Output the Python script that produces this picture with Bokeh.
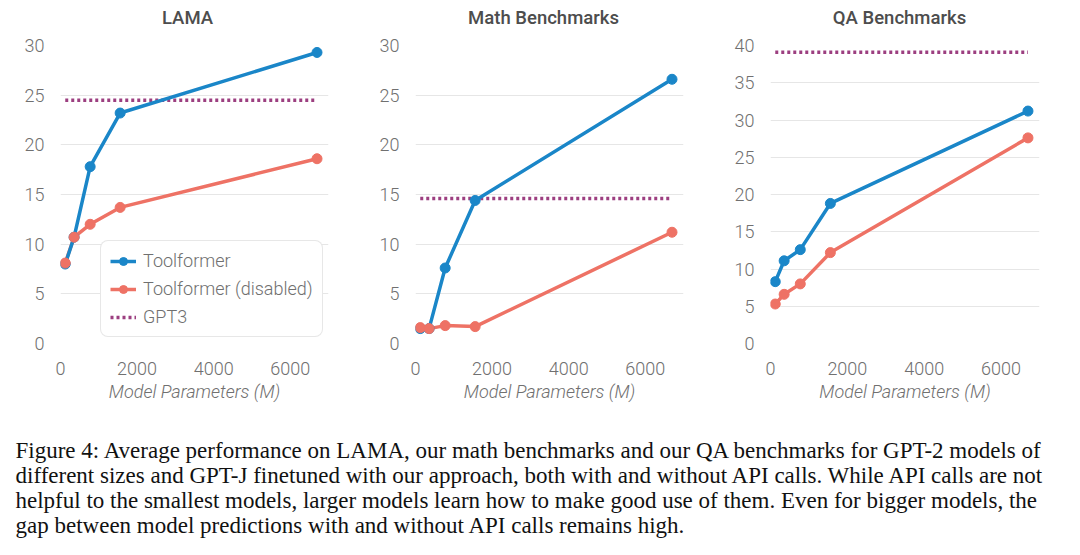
from bokeh.plotting import figure
from bokeh.layouts import column, row
from bokeh.models import Range1d, FixedTicker, Legend, LegendItem, ColumnDataSource
from bokeh.embed import file_html
from bokeh.resources import INLINE
from bokeh.core.properties import value

# ---- data ----
params = [124, 355, 775, 1558, 6700]
titles = ["LAMA", "Math Benchmarks", "QA Benchmarks"]
toolformer = [
    [8.0, 10.7, 17.8, 23.2, 29.3],
    [1.5, 1.5, 7.6, 14.4, 26.6],
    [8.3, 11.1, 12.6, 18.8, 31.2],
]
disabled = [
    [8.1, 10.7, 12.0, 13.7, 18.6],
    [1.6, 1.5, 1.8, 1.7, 11.2],
    [5.3, 6.6, 8.0, 12.2, 27.6],
]
gpt3 = [24.5, 14.6, 39.1]
y_max = [30, 30, 40]
y_ticks = [[0, 5, 10, 15, 20, 25, 30], [0, 5, 10, 15, 20, 25, 30], [0, 5, 10, 15, 20, 25, 30, 35, 40]]
x_ticks = [0, 2000, 4000, 6000]
series_names = ["Toolformer", "Toolformer (disabled)", "GPT3"]
caption_lines = [
    "Figure 4:  Average performance on LAMA, our math benchmarks and our QA benchmarks for GPT-2 models of",
    "different sizes and GPT-J finetuned with our approach, both with and without API calls.  While API calls are not",
    "helpful to the smallest models, larger models learn how to make good use of them.  Even for bigger models, the",
    "gap between model predictions with and without API calls remains high.",
]

BLUE = "#1a86c8"
RED = "#ee7265"
PURPLE = "#9c3f80"
GRAY = "#707070"
FONT = "Roboto Light"
TFONT = "Roboto Medium"

PAGE_W = 1072
widths = [362, 355, 355]
borders_left = [60, 53, 53]
borders_right = [34, 34, 33]
TITLE_H = 30
FIG_H = 383          # chart row height (below title strip)
FRAME_TOP = 15
FRAME_H = 298
X_MAX = 7000
title_centers = [187, 543, 899]


def blank(fig):
    fig.outline_line_color = None
    fig.xaxis.visible = False
    fig.yaxis.visible = False
    fig.xgrid.visible = False
    fig.ygrid.visible = False


# title strip
tfig = figure(width=PAGE_W, height=TITLE_H, output_backend="svg", toolbar_location=None,
              x_range=Range1d(0, PAGE_W), y_range=Range1d(TITLE_H, 0), min_border=0)
blank(tfig)
tfig.text(x=title_centers, y=[17] * 3, text=titles, text_font=value(TFONT),
          text_font_size="18.5px", text_color="#4d4d4d", text_align="center",
          text_baseline="middle")

figs = []
for i in range(3):
    p = figure(width=widths[i], height=FIG_H, output_backend="svg", toolbar_location=None,
               x_range=Range1d(0, X_MAX), y_range=Range1d(0, y_max[i]),
               min_border_left=borders_left[i], min_border_right=borders_right[i],
               min_border_top=FRAME_TOP, min_border_bottom=FIG_H - FRAME_TOP - FRAME_H)
    p.outline_line_color = None
    p.background_fill_color = "white"
    p.border_fill_color = "white"
    p.xgrid.grid_line_color = None
    p.ygrid.grid_line_color = "#e6e6e6"
    p.ygrid.grid_line_width = 1
    for ax in (p.xaxis[0], p.yaxis[0]):
        ax.axis_line_color = None
        ax.major_tick_line_color = None
        ax.minor_tick_line_color = None
        ax.major_label_text_font = FONT
        ax.major_label_text_font_size = "18px"
        ax.major_label_text_color = GRAY
    p.xaxis.ticker = FixedTicker(ticks=x_ticks)
    p.yaxis.ticker = FixedTicker(ticks=y_ticks[i])
    p.xaxis.major_label_standoff = 12
    p.yaxis.major_label_standoff = 10
    p.xaxis.axis_label = "Model Parameters (M)"
    p.xaxis.axis_label_text_font = FONT
    p.xaxis.axis_label_text_font_size = "18px"
    p.xaxis.axis_label_text_font_style = "italic"
    p.xaxis.axis_label_text_color = GRAY
    p.xaxis.axis_label_standoff = 3

    g_line = p.line([params[0], params[-1]], [gpt3[i], gpt3[i]], line_color=PURPLE,
                    line_width=3.5, line_dash="3 3")
    r_line = p.line(params, disabled[i], line_color=RED, line_width=3.5)
    b_line = p.line(params, toolformer[i], line_color=BLUE, line_width=3.5)
    b_pts = p.scatter(params, toolformer[i], size=10, fill_color=BLUE, line_color=BLUE)
    r_pts = p.scatter(params, disabled[i], size=10, fill_color=RED, line_color=RED)

    if i == 0:
        legend = Legend(items=[
            LegendItem(label=series_names[0], renderers=[b_line, b_pts]),
            LegendItem(label=series_names[1], renderers=[r_line, r_pts]),
            LegendItem(label=series_names[2], renderers=[g_line]),
        ], location=(40, 6))
        legend.label_text_font = FONT
        legend.label_text_font_size = "18px"
        legend.label_text_color = GRAY
        legend.border_line_color = "#cfcfcf"
        legend.border_line_width = 1.5
        legend.border_radius = 8
        legend.background_fill_alpha = 1
        legend.glyph_width = 26
        legend.glyph_height = 20
        legend.label_height = 20
        legend.spacing = 7
        legend.padding = 9
        legend.margin = 0
        legend.label_standoff = 7
        p.add_layout(legend, "center")
    figs.append(p)

# caption
TOP_H = TITLE_H + FIG_H
CAP_H = 555 - TOP_H
cap = figure(width=PAGE_W, height=CAP_H, output_backend="svg", toolbar_location=None,
             x_range=Range1d(0, PAGE_W), y_range=Range1d(CAP_H, 0), min_border=0)
blank(cap)
src = ColumnDataSource(dict(x=[15] * len(caption_lines),
                            y=[450 - TOP_H + 25 * k for k in range(len(caption_lines))],
                            t=caption_lines))
cap.text(x="x", y="y", text="t", source=src, text_font=value("Liberation Serif"),
         text_font_size="23px", text_color="#111111", text_baseline="middle", text_align="left")

layout = column(tfig, row(*figs), cap)
open("out.html", "w").write(file_html(layout, INLINE))
